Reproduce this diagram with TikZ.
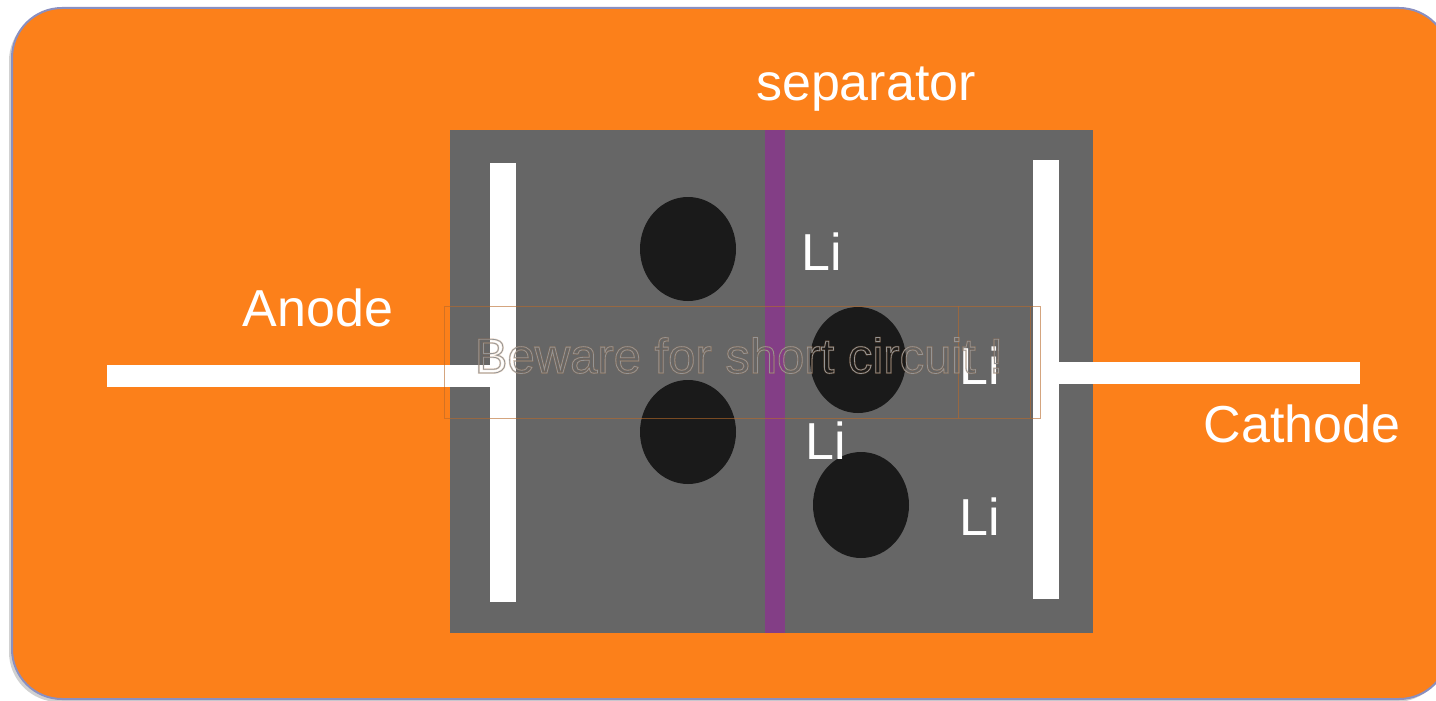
\documentclass[tikz,border=0pt]{standalone}
\usepackage{fontspec}
\setmainfont{Liberation Sans}
\definecolor{panelorange}{HTML}{FC801A}
\definecolor{rimblue}{HTML}{8A8FC0}
\definecolor{cellgray}{HTML}{666666}
\definecolor{sepviolet}{HTML}{833E86}
\definecolor{ionblack}{HTML}{1A1A1A}
\definecolor{outlinegray}{HTML}{959595}
\definecolor{frameorange}{HTML}{B86A2A}
% outlined (stroked, unfilled) text through the PDF text render mode
\newcommand{\strokedtext}[2]{\special{pdf:literal direct 1 Tr #1 w}#2\special{pdf:literal direct 0 Tr}}
\tikzset{
  bigsans/.style={font=\fontsize{52}{60}\selectfont, text=white, anchor=base, inner sep=0pt},
  warnsans/.style={font=\fontsize{49}{56}\selectfont, anchor=base, inner sep=0pt},
  plate/.style={fill=white},
  particle/.style={fill=ionblack},
  textframe/.style={frameorange, line width=0.5pt, opacity=0.6},
}
\begin{document}
\begin{tikzpicture}[x=1pt,y=-1pt]
\useasboundingbox (0,0) rectangle (1436,701);
\fill[white] (0,0) rectangle (1436,701);
% rounded orange panel, running past the right edge
\begin{scope}
  \clip (0,0) rectangle (1436,701);
  \fill[black!18, rounded corners=50pt] (9,11) rectangle (1446,702);
  \draw[fill=panelorange, draw=rimblue, line width=2pt, rounded corners=50pt] (12,8) rectangle (1449,699);
\end{scope}
% cell body and separator
\fill[cellgray] (450,130) rectangle (1093,633);
\fill[sepviolet] (765,130) rectangle (785,633);
% electrode plates and leads
\fill[plate] (490,163) rectangle (516,602);
\fill[plate] (1033,160) rectangle (1059,599);
\fill[plate] (107,365) rectangle (490,387);
\fill[plate] (1059,362) rectangle (1360,384);
% lithium particles
\fill[particle] (688,249) ellipse [x radius=48, y radius=52];
\fill[particle] (688,432) ellipse [x radius=48, y radius=52];
\fill[particle] (858,360) ellipse [x radius=48, y radius=53];
\fill[particle] (861,505) ellipse [x radius=48, y radius=53];
% faint text-box frame around the warning
\draw[textframe] (444,306) rectangle (1040,418);
\draw[textframe] (958,306) -- (958,418);
\draw[textframe] (1030,306) -- (1030,418);
% labels
\node[bigsans] (sep) at (866,100) {separator};
\node[bigsans] (anode) at (318,326) {Anode};
\node[bigsans] (cathode) at (1302,442) {Cathode};
\node[bigsans] (li1) at (822,270) {Li};
\node[bigsans] (li2) at (980,384) {Li};
\node[bigsans] (li3) at (826,459) {Li};
\node[bigsans] (li4) at (980,535) {Li};
% warning in hollow letters: a faint orange rim under a thin gray outline
\node[warnsans, text=frameorange, opacity=0.25] (warnrim) at (739,373) {\strokedtext{1.8}{Beware for short circuit !}};
\node[warnsans, text=outlinegray] (warn) at (739,373) {\strokedtext{0.8}{Beware for short circuit !}};
\end{tikzpicture}
\end{document}
